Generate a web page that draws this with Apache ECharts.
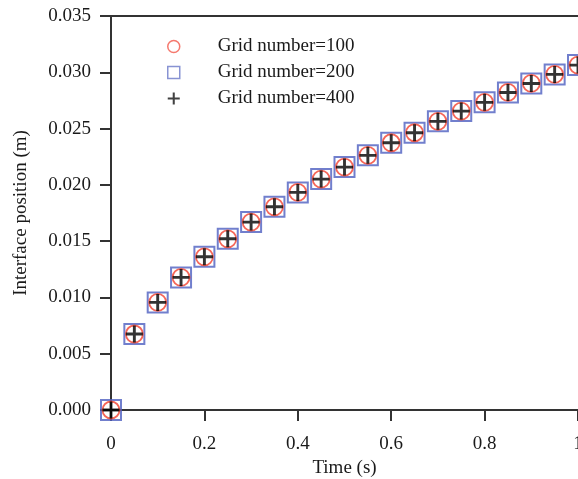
<!DOCTYPE html>
<html>
<head>
<meta charset="utf-8">
<script src="https://cdn.jsdelivr.net/npm/echarts@6/dist/echarts.min.js"></script>
<style>html,body{margin:0;padding:0;background:#fff}#c{width:578px;height:479px}</style>
</head>
<body>
<div id="c"></div>
<script>
var times = [0, 0.05, 0.1, 0.15, 0.2, 0.25, 0.3, 0.35, 0.4, 0.45, 0.5, 0.55, 0.6, 0.65, 0.7, 0.75, 0.8, 0.85, 0.9, 0.95, 1.0];
var grid100 = [0, 0.00675, 0.00956, 0.01178, 0.01361, 0.01521, 0.01669, 0.01805, 0.01933, 0.02051, 0.02158, 0.02262, 0.02374, 0.02463, 0.02564, 0.02655, 0.02733, 0.02821, 0.02901, 0.02981, 0.03064];
var grid200 = [0, 0.00675, 0.00956, 0.01178, 0.01361, 0.01521, 0.01669, 0.01805, 0.01933, 0.02051, 0.02158, 0.02262, 0.02374, 0.02463, 0.02564, 0.02655, 0.02733, 0.02821, 0.02901, 0.02981, 0.03064];
var grid400 = [0, 0.00675, 0.00956, 0.01178, 0.01361, 0.01521, 0.01669, 0.01805, 0.01933, 0.02051, 0.02158, 0.02262, 0.02374, 0.02463, 0.02564, 0.02655, 0.02733, 0.02821, 0.02901, 0.02981, 0.03064];
var seriesNames = ['Grid number=100', 'Grid number=200', 'Grid number=400'];
var xTickLabels = {0: '0', 0.2: '0.2', 0.4: '0.4', 0.6: '0.6', 0.8: '0.8', 1: '1'};

function pairs(xs, ys) { return xs.map(function (x, i) { return [x, ys[i]]; }); }

var FONT = 'Liberation Serif';
var AX = '#333';
var TXT = '#1a1a1a';
var plusPath = 'path://M-1.7,-10 L1.7,-10 L1.7,-1.7 L10,-1.7 L10,1.7 L1.7,1.7 L1.7,10 L-1.7,10 L-1.7,1.7 L-10,1.7 L-10,-1.7 L-1.7,-1.7 Z';

var chart = echarts.init(document.getElementById('c'), null, {renderer: 'canvas'});
chart.setOption({
  animation: false,
  backgroundColor: '#fff',
  textStyle: {fontFamily: FONT},
  grid: {left: 111, right: 0, top: 16, bottom: 69, containLabel: false, outerBoundsMode: 'none'},
  legend: {
    orient: 'vertical',
    left: 162, top: 32,
    itemWidth: 12, itemHeight: 12, itemGap: 7,
    textStyle: {fontFamily: FONT, fontSize: 19, color: TXT, padding: [0, 0, 0, 33]},
    data: [
      {name: seriesNames[0], icon: 'circle', itemStyle: {color: '#fff', borderColor: '#f2584a', borderWidth: 1.5}},
      {name: seriesNames[1], icon: 'rect', itemStyle: {color: '#fff', borderColor: '#6a78c8', borderWidth: 1.5}},
      {name: seriesNames[2], icon: plusPath, itemStyle: {color: '#111', borderWidth: 0}}
    ]
  },
  xAxis: [{
    type: 'value', min: 0, max: 1, interval: 0.2,
    name: 'Time (s)', nameLocation: 'middle', nameGap: 48,
    nameTextStyle: {fontFamily: FONT, fontSize: 19, color: TXT},
    axisLine: {show: true, lineStyle: {color: AX, width: 2}},
    axisTick: {show: true, length: 11, lineStyle: {color: AX, width: 2}},
    axisLabel: {fontFamily: FONT, fontSize: 19, color: TXT, margin: 25,
      formatter: function (v) { return xTickLabels[v] !== undefined ? xTickLabels[v] : ''; }},
    splitLine: {show: false}
  }, {
    type: 'value', min: 0, max: 1, position: 'top',
    axisLine: {show: true, lineStyle: {color: AX, width: 2}},
    axisTick: {show: false}, axisLabel: {show: false}, splitLine: {show: false}
  }],
  yAxis: {
    type: 'value', min: 0, max: 0.035, interval: 0.005,
    name: 'Interface position (m)', nameLocation: 'middle', nameGap: 80,
    nameTextStyle: {fontFamily: FONT, fontSize: 19, color: TXT},
    axisLine: {show: true, lineStyle: {color: AX, width: 2}},
    axisTick: {show: true, length: 11, lineStyle: {color: AX, width: 2}},
    axisLabel: {fontFamily: FONT, fontSize: 19, color: TXT, margin: 20,
      formatter: function (v) { return v.toFixed(3); }},
    splitLine: {show: false}
  },
  series: [
    {name: seriesNames[0], type: 'scatter', data: pairs(times, grid100), symbol: 'circle', symbolSize: 17, clip: false, z: 3,
      itemStyle: {color: 'rgba(255,255,255,0)', borderColor: '#f2402e', borderWidth: 1.8}},
    {name: seriesNames[1], type: 'scatter', data: pairs(times, grid200), symbol: 'rect', symbolSize: 20, clip: false, z: 2,
      itemStyle: {color: 'rgba(255,255,255,0)', borderColor: '#4d5fc0', borderWidth: 2}},
    {name: seriesNames[2], type: 'scatter', data: pairs(times, grid400), symbol: plusPath, symbolSize: 17, clip: false, z: 4,
      itemStyle: {color: '#000', borderWidth: 0}}
  ]
});
</script>
</body>
</html>
